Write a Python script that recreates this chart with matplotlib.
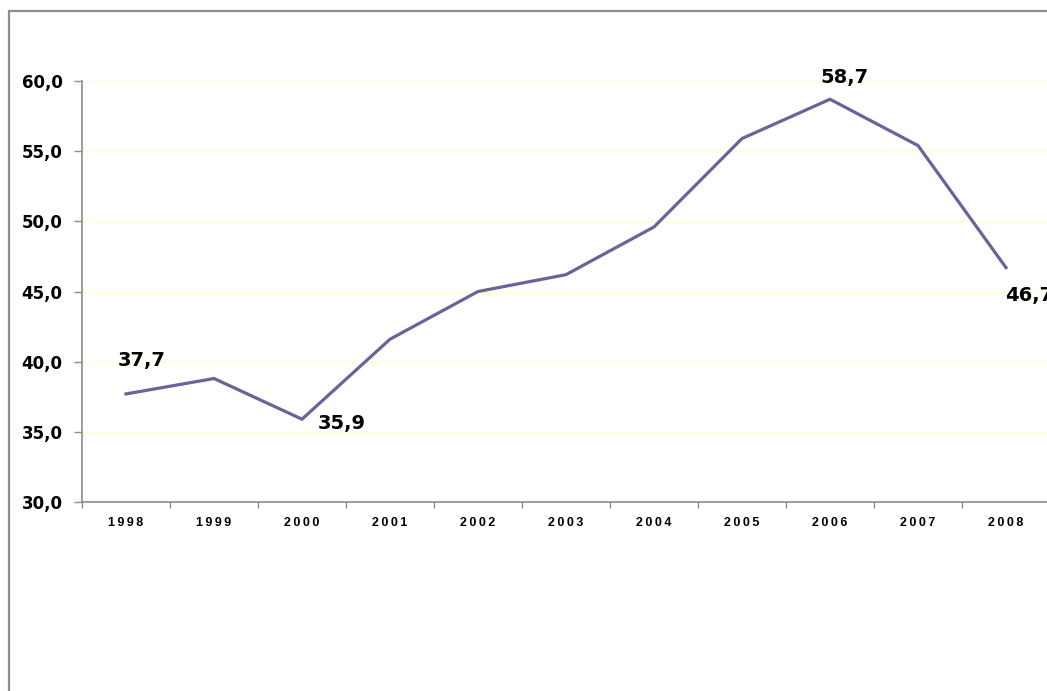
import numpy as np
import matplotlib
matplotlib.use('Agg')
import matplotlib.pyplot as plt
from matplotlib.patches import Rectangle

years = ['1998', '1999', '2000', '2001', '2002', '2003',
         '2004', '2005', '2006', '2007', '2008']
values = [37.7, 38.8, 35.9, 41.6, 45.0, 46.2, 49.6, 55.9, 58.7, 55.4, 46.7]

# which points get a value label, and where (offset in pixels)
label_idx = [0, 2, 8, 10]
label_off = [(16, 33), (40, -4), (15, 22), (23, -28)]

fig = plt.figure(figsize=(10.47, 6.91), dpi=100)
W, H = 1047., 691.

# outer chart frame (runs off the right and bottom edges)
fig.patches.append(Rectangle((8.5 / W, -0.1), 1.2, 1 - 10.5 / H + 0.1,
                             transform=fig.transFigure, fill=False,
                             edgecolor='#8c8c8c', lw=1.6))

ax = fig.add_axes([82 / W, 1 - 502 / H, 968 / W, (502 - 81) / H])
x = np.arange(len(years))
ax.plot(x, values, color='#65659b', lw=2.3, solid_joinstyle='miter',
        zorder=3, clip_on=False)

ax.set_xlim(-0.5, len(years) - 0.5)
ax.set_ylim(30, 60)
ax.set_yticks(np.arange(30, 61, 5))
ax.set_yticklabels([('%.1f' % v).replace('.', ',') for v in np.arange(30, 61, 5)],
                   fontsize=12, fontweight='bold', family='DejaVu Sans')
for v in np.arange(35, 61, 5):
    ax.axhline(v, color='#ffffcf', lw=1, zorder=1)

ax.set_xticks(x)
ax.set_xticklabels(['\u2009'.join(y) for y in years], fontsize=9,
                   fontweight='bold', family=['Liberation Sans', 'DejaVu Sans'])
ax.set_xticks(np.arange(-0.5, len(years)), minor=True)
ax.tick_params(axis='x', which='major', length=0, pad=11)
ax.tick_params(axis='x', which='minor', length=4, width=1, color='#8c8c8c',
               direction='out')
ax.tick_params(axis='y', length=6, width=1, color='#8c8c8c', pad=8)

for s in ['top', 'right']:
    ax.spines[s].set_visible(False)
for s in ['left', 'bottom']:
    ax.spines[s].set_color('#8c8c8c')
    ax.spines[s].set_linewidth(1.2)

for i, (dx, dy) in zip(label_idx, label_off):
    ax.annotate(('%.1f' % values[i]).replace('.', ','), (x[i], values[i]),
                xytext=(dx, dy), textcoords='offset pixels',
                ha='center', va='center', fontsize=14, fontweight='bold',
                family='DejaVu Sans', annotation_clip=False)

fig.savefig('out.png', dpi=100)
